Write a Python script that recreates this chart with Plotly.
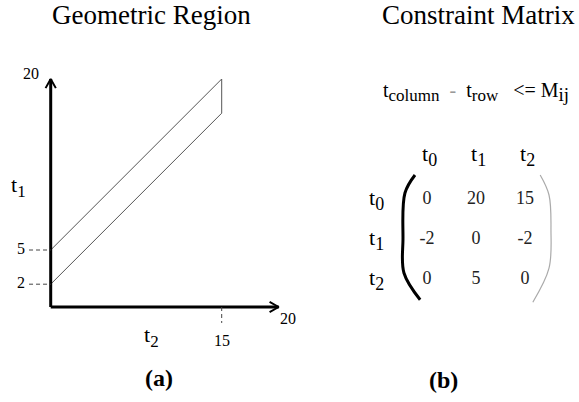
import plotly.graph_objects as go

# ---------------- data ----------------
region_t2 = [0, 0, 15, 15, 0]          # x of region vertices (t2)
region_t1 = [2, 5, 20, 17, 2]          # y of region vertices (t1)
axis_max = 20
t1_marks = [2, 5]
t2_marks = [15]
row_names = ["0", "1", "2"]
col_names = ["0", "1", "2"]
M = [[0, 20, 15],
     [-2, 0, -2],
     [0, 5, 0]]

W, H = 579, 402
FONT = "Liberation Serif"


def px(x, y):
    """window pixel -> paper fraction"""
    return x / W, 1 - y / H


def tsub(sub, small=18):
    return "t<sub><span style='font-size:%dpx'>%s</span></sub>" % (small, sub)


fig = go.Figure()

# ---------- left panel : geometric region ----------
fig.add_trace(go.Scatter(x=region_t2, y=region_t1, mode="lines",
                         line=dict(color="#555", width=1), hoverinfo="skip",
                         xaxis="x", yaxis="y"))
fig.add_trace(go.Scatter(x=[0, 0, None, 0, axis_max], y=[axis_max, 0, None, 0, 0],
                         mode="lines", line=dict(color="black", width=3),
                         hoverinfo="skip", xaxis="x", yaxis="y"))
hw, hl = 0.45, 0.8
fig.add_trace(go.Scatter(
    x=[-hw, 0, hw, None, axis_max - hl, axis_max, axis_max - hl],
    y=[axis_max - hl, axis_max, axis_max - hl, None, hw, 0, -hw],
    mode="lines", line=dict(color="black", width=2),
    hoverinfo="skip", xaxis="x", yaxis="y"))
dx, dy = [], []
for v in t1_marks:
    dx += [-1.9, 0, None]
    dy += [v, v, None]
for v in t2_marks:
    dx += [v, v, None]
    dy += [0, -1.4, None]
fig.add_trace(go.Scatter(x=dx, y=dy, mode="lines",
                         line=dict(color="#444", width=1, dash="4px,3px"),
                         hoverinfo="skip", xaxis="x", yaxis="y"))

ann = []
C = dict(showarrow=False, xanchor="center", yanchor="middle")
tick_font = dict(family=FONT, size=16, color="black")
for v in t1_marks:
    ann.append(dict(x=-2.6, y=v + 0.15, xref="x", yref="y", text=str(v), font=tick_font, **C))
for v in t2_marks:
    ann.append(dict(x=v, y=-2.9, xref="x", yref="y", text=str(v), font=tick_font, **C))
ann.append(dict(x=-1.7, y=axis_max + 0.5, xref="x", yref="y", text=str(axis_max),
                font=tick_font, **C))
ann.append(dict(x=axis_max + 0.8, y=-0.97, xref="x", yref="y", text=str(axis_max),
                font=tick_font, **C))
lab_font = dict(family=FONT, size=22, color="black")
ann.append(dict(x=-2.8, y=10.6, xref="x", yref="y", text=tsub("1", small=17),
                font=lab_font, **C))
ann.append(dict(x=8.8, y=-2.6, xref="x", yref="y", text=tsub("2", small=17),
                font=lab_font, **C))

# ---------- right panel : constraint matrix ----------
vx, vy, vt = [], [], []
for i, row in enumerate(M):
    for j, val in enumerate(row):
        vx.append(j)
        vy.append(i)
        vt.append(str(val))
fig.add_trace(go.Scatter(x=vx, y=vy, text=vt, mode="text",
                         textfont=dict(family=FONT, size=18, color="#222"),
                         hoverinfo="skip", xaxis="x2", yaxis="y2"))
hdr_font = dict(family=FONT, size=22, color="black")
for j, c in enumerate(col_names):
    ann.append(dict(x=j + 0.05, y=-1.1, xref="x2", yref="y2", text=tsub(c),
                    font=hdr_font, **C))
for i, r in enumerate(row_names):
    ann.append(dict(x=-1.04, y=i + 0.0, xref="x2", yref="y2", text=tsub(r),
                    font=hdr_font, **C))

n = len(M)
lx = [-0.245, -0.45, -0.49, -0.47, -0.14]
ly = [-0.6, -0.15, 1.0, 1.85, 2.52]
fig.add_trace(go.Scatter(x=lx, y=ly, mode="lines",
                         line=dict(color="black", width=3, shape="spline"),
                         hoverinfo="skip", xaxis="x2", yaxis="y2"))
rx = [n - 1 + 0.31, n - 1 + 0.49, n - 1 + 0.53, n - 1 + 0.49, n - 1 + 0.16]
ry = [-0.6, -0.1, 0.78, 1.73, 2.58]
fig.add_trace(go.Scatter(x=rx, y=ry, mode="lines",
                         line=dict(color="#aaa", width=1.2, shape="spline"),
                         hoverinfo="skip", xaxis="x2", yaxis="y2"))

cons = ("t<sub><span style='font-size:17px'>column</span></sub>\u00a0\u00a0"
        "<span style='color:#999'>-</span>\u00a0\u00a0"
        "t<sub><span style='font-size:17px'>row</span></sub>\u00a0\u00a0\u00a0"
        "&lt;=\u00a0M<sub><span style='font-size:19px'>ij</span></sub>")
ann.append(dict(x=1.0, y=-2.68, xref="x2", yref="y2", text=cons,
                font=dict(family=FONT, size=20, color="black"), **C))

# titles & captions
for txt, x, y, sz in [("Geometric Region", 151.5, 15, 27),
                      ("Constraint Matrix", 478, 15, 27),
                      ("<b>(a)</b>", 159, 378, 24),
                      ("<b>(b)</b>", 444, 380, 24)]:
    fx, fy = px(x, y)
    ann.append(dict(x=fx, y=fy, xref="paper", yref="paper", text=txt,
                    font=dict(family=FONT, size=sz, color="black"), **C))

# ---------- axes geometry ----------
s = 11.4                      # px per unit, left panel
x0, y0 = 50.7, 307.0          # origin in px
xdom = [0, 0.55]
xr = [-x0 / s, (xdom[1] * W - x0) / s]
yr = [-(H - y0) / s, y0 / s]

cs, rs = 49.0, 40.0           # matrix cell spacing (px)
c0, r0 = 427.0, 199.0
x2dom = [0.55, 1]
x2r = [-(c0 - x2dom[0] * W) / cs, (W - c0) / cs]
y2r = [(H - r0) / rs, -r0 / rs]

hidden = dict(visible=False, showgrid=False, zeroline=False, fixedrange=True)
fig.update_layout(
    width=W, height=H, margin=dict(l=0, r=0, t=0, b=0),
    paper_bgcolor="white", plot_bgcolor="white", showlegend=False,
    xaxis=dict(domain=xdom, range=xr, **hidden),
    yaxis=dict(domain=[0, 1], range=yr, **hidden),
    xaxis2=dict(domain=x2dom, range=x2r, anchor="y2", **hidden),
    yaxis2=dict(domain=[0, 1], range=y2r, anchor="x2", **hidden),
    annotations=ann,
)
for tr in fig.data:
    tr.cliponaxis = False

fig.write_html("out.html", config={"displayModeBar": False},
               post_script="document.body.style.margin='0';document.body.style.overflow='hidden';")
